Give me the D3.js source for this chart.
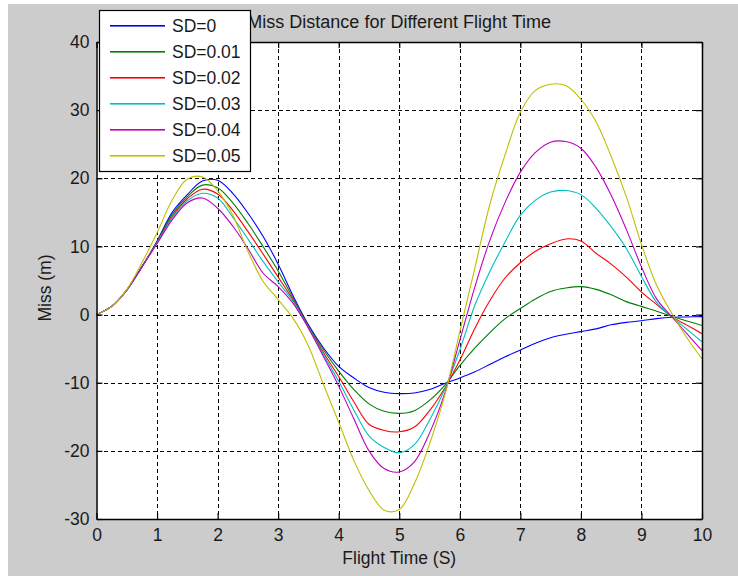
<!DOCTYPE html>
<html>
<head>
<meta charset="utf-8">
<script src="https://cdn.jsdelivr.net/npm/d3@7"></script>
<style>
  html, body { margin: 0; padding: 0; background: #ffffff; }
  svg { display: block; }
  text { font-family: "Liberation Sans", Arial, sans-serif; fill: #1a1a1a; }
</style>
</head>
<body>
<div id="chart"></div>
<script>
// ---------------- DATA ----------------
const title = "Miss Distance for Different Flight Time";
const xLabel = "Flight Time (S)";
const yLabel = "Miss (m)";
const xTicks = [0, 1, 2, 3, 4, 5, 6, 7, 8, 9, 10];
const yTicks = [-30, -20, -10, 0, 10, 20, 30, 40];
const seriesNames = ["SD=0", "SD=0.01", "SD=0.02", "SD=0.03", "SD=0.04", "SD=0.05"];
const seriesColors = ["#0000ff", "#008000", "#ff0000", "#00bfbf", "#bf00bf", "#bfbf00"];

const time = [0, 0.25, 0.5, 0.75, 1, 1.25, 1.5, 1.75, 2, 2.25, 2.5, 2.75, 3, 3.25, 3.5, 3.75,
  4, 4.25, 4.5, 4.75, 5, 5.25, 5.5, 5.75, 6, 6.25, 6.5, 6.75, 7, 7.25, 7.5, 7.75,
  8, 8.25, 8.5, 8.75, 9, 9.25, 9.5, 9.75, 10];

const sd0 = [0, 1.2, 3.6, 7.0, 10.8, 15.0, 17.6, 19.6, 19.7, 17.8, 14.9, 11.5, 7.4, 2.7, -1.5, -4.9,
  -7.6, -9.3, -10.7, -11.4, -11.6, -11.5, -11.0, -10.1, -9.3, -8.4, -7.3, -6.2, -5.2, -4.2, -3.4, -2.9,
  -2.5, -2.1, -1.5, -1.15, -0.9, -0.6, -0.4, -0.35, -0.3];
const sd001 = [0, 1.2, 3.6, 7.0, 10.7, 14.7, 17.3, 19.0, 18.6, 16.4, 13.4, 10.0, 6.4, 2.35, -1.7, -5.2,
  -8.3, -11.0, -13.1, -14.2, -14.5, -14.1, -12.6, -10.4, -7.5, -4.9, -2.6, -0.6, 0.9, 2.3, 3.4, 3.9,
  4.1, 3.7, 2.9, 1.9, 1.2, 0.5, -0.25, -0.95, -1.6];
const sd002 = [0, 1.2, 3.6, 7.0, 10.6, 14.4, 17.0, 18.4, 17.7, 15.3, 12.2, 8.9, 5.5, 2.1, -1.8, -5.6,
  -9.1, -12.8, -16.1, -17.0, -17.2, -16.5, -14.1, -10.8, -6.7, -2.0, 2.1, 5.4, 7.6, 9.3, 10.4, 11.1,
  10.8, 9.0, 7.4, 5.5, 3.3, 1.5, -0.3, -1.55, -2.8];
const sd003 = [0, 1.2, 3.6, 7.0, 10.5, 14.2, 16.7, 17.8, 17.1, 14.3, 11.1, 7.8, 4.8, 1.9, -1.9, -5.9,
  -9.8, -14.0, -17.8, -19.5, -20.3, -19.1, -15.5, -11.0, -5.2, 1.4, 6.4, 10.7, 14.6, 16.8, 18.0, 18.2,
  17.6, 15.6, 12.9, 9.7, 5.6, 1.8, -0.3, -2.15, -4.0];
const sd004 = [0, 1.2, 3.6, 7.0, 10.4, 13.9, 16.4, 17.1, 15.6, 13.0, 9.7, 6.1, 4.1, 1.6, -2.0, -6.2,
  -10.5, -15.3, -20.0, -22.6, -23.1, -21.6, -17.4, -11.6, -3.8, 4.1, 11.0, 16.5, 20.9, 23.8, 25.3, 25.4,
  24.4, 21.6, 17.5, 12.5, 7.0, 2.3, -0.3, -2.8, -5.3];
const sd005 = [0, 1.2, 3.7, 7.6, 12.0, 16.8, 19.9, 20.2, 18.2, 14.6, 9.3, 4.9, 2.2, -0.6, -4.6, -10.3,
  -15.8, -21.4, -25.8, -28.7, -28.6, -24.8, -19.0, -11.9, -2.5, 6.9, 16.3, 23.5, 29.7, 32.9, 33.8, 33.6,
  31.6, 28.3, 23.2, 17.3, 10.3, 4.3, 0.2, -3.4, -6.5];

const seriesValues = [sd0, sd001, sd002, sd003, sd004, sd005];

// ---------------- LAYOUT ----------------
const W = 738, H = 576;
const plot = { left: 96.5, right: 702, top: 42, bottom: 519 };
const fontSize = 17.5;

const svg = d3.select("#chart").append("svg")
  .attr("width", W).attr("height", H);

// figure background (with a thin white margin top/left as in the picture)
svg.append("rect").attr("x", 0).attr("y", 0).attr("width", W).attr("height", H).attr("fill", "#ffffff");
svg.append("rect").attr("x", 8).attr("y", 4).attr("width", W - 8).attr("height", H - 4).attr("fill", "#cccccc");

const x = d3.scaleLinear().domain([0, 10]).range([plot.left, plot.right]);
const y = d3.scaleLinear().domain([-30, 40]).range([plot.bottom, plot.top]);

// axes background
svg.append("rect")
  .attr("x", plot.left).attr("y", plot.top)
  .attr("width", plot.right - plot.left).attr("height", plot.bottom - plot.top)
  .attr("fill", "#ffffff");

// grid lines
const grid = svg.append("g").attr("stroke", "#000").attr("stroke-width", 1)
  .attr("stroke-dasharray", "4,3").attr("shape-rendering", "crispEdges");
grid.selectAll("line.gx").data(xTicks.slice(1, -1)).join("line")
  .attr("class", "gx")
  .attr("x1", d => Math.round(x(d)) + 0.5).attr("x2", d => Math.round(x(d)) + 0.5)
  .attr("y1", plot.top).attr("y2", plot.bottom);
grid.selectAll("line.gy").data(yTicks.slice(1, -1)).join("line")
  .attr("class", "gy")
  .attr("y1", d => Math.round(y(d)) + 0.5).attr("y2", d => Math.round(y(d)) + 0.5)
  .attr("x1", plot.left).attr("x2", plot.right);

// data lines
const lineGen = d3.line()
  .x((d, i) => x(time[i]))
  .y(d => y(d))
  .curve(d3.curveCatmullRom.alpha(0.5));

const clipId = "plotclip";
svg.append("clipPath").attr("id", clipId).append("rect")
  .attr("x", plot.left).attr("y", plot.top)
  .attr("width", plot.right - plot.left).attr("height", plot.bottom - plot.top);

const lines = svg.append("g").attr("clip-path", `url(#${clipId})`);
seriesValues.forEach((vals, k) => {
  lines.append("path")
    .datum(vals)
    .attr("fill", "none")
    .attr("stroke", seriesColors[k])
    .attr("stroke-width", 1.1)
    .attr("d", lineGen);
});

// axes with inward ticks on all sides
const tickLen = 6;
const fmt = d => String(d);
const axB = svg.append("g").attr("transform", `translate(0,${plot.bottom})`)
  .call(d3.axisBottom(x).tickValues(xTicks).tickSizeInner(-tickLen).tickSizeOuter(0).tickPadding(10).tickFormat(fmt));
const axT = svg.append("g").attr("transform", `translate(0,${plot.top})`)
  .call(d3.axisTop(x).tickValues(xTicks).tickSizeInner(-tickLen).tickSizeOuter(0).tickFormat(""));
const axL = svg.append("g").attr("transform", `translate(${plot.left},0)`)
  .call(d3.axisLeft(y).tickValues(yTicks).tickSizeInner(-tickLen).tickSizeOuter(0).tickPadding(7).tickFormat(fmt));
const axR = svg.append("g").attr("transform", `translate(${plot.right},0)`)
  .call(d3.axisRight(y).tickValues(yTicks).tickSizeInner(-tickLen).tickSizeOuter(0).tickFormat(""));

[axB, axT, axL, axR].forEach(g => {
  g.select(".domain").attr("stroke", "#000").attr("stroke-width", 1.5);
  g.selectAll(".tick line").attr("stroke", "#000").attr("stroke-width", 1.2);
  g.selectAll(".tick text").attr("font-size", fontSize)
    .attr("font-family", "'Liberation Sans', Arial, sans-serif").attr("fill", "#1a1a1a");
});

// title
svg.append("text")
  .attr("x", (plot.left + plot.right) / 2).attr("y", 28)
  .attr("text-anchor", "middle").attr("font-size", 18)
  .text(title);

// axis labels
svg.append("text")
  .attr("x", (plot.left + plot.right) / 2).attr("y", 564)
  .attr("text-anchor", "middle").attr("font-size", fontSize)
  .text(xLabel);
svg.append("text")
  .attr("transform", `translate(51,288) rotate(-90)`)
  .attr("text-anchor", "middle").attr("font-size", fontSize)
  .text(yLabel);

// legend
const legend = svg.append("g");
legend.append("rect")
  .attr("x", 99.5).attr("y", 10.5).attr("width", 151).attr("height", 161)
  .attr("fill", "#ffffff").attr("stroke", "#000").attr("stroke-width", 1.2);
seriesNames.forEach((name, k) => {
  const cy = 25 + k * 26;
  legend.append("rect")
    .attr("x", 110).attr("y", cy).attr("width", 55).attr("height", 1.6)
    .attr("fill", seriesColors[k]);
  legend.append("text")
    .attr("x", 172).attr("y", cy + 7).attr("font-size", fontSize)
    .text(name);
});
</script>
</body>
</html>
